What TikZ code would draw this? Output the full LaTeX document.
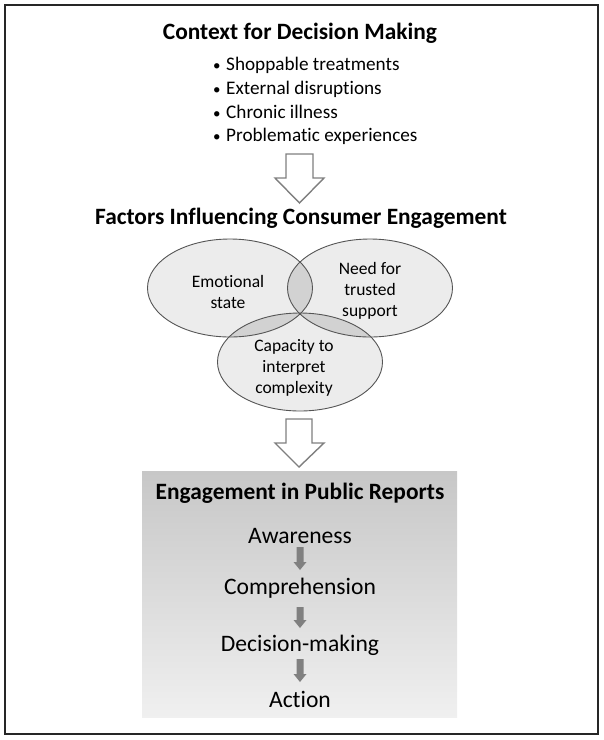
\documentclass[tikz,border=0pt]{standalone}
\usepackage{fontspec}
\setmainfont{Carlito}[Ligatures=NoCommon]
\usetikzlibrary{shapes.geometric}
\definecolor{edgegray}{HTML}{7F7F7F}
\definecolor{arrowgray}{HTML}{808080}
\definecolor{vennfill}{HTML}{ECECEC}
\definecolor{vennover}{HTML}{D2D2D2}
\definecolor{vennline}{HTML}{555555}
\begin{document}
\begin{tikzpicture}[x=1pt,y=-1pt,
  title/.style={font=\fontsize{23.4}{28}\selectfont\bfseries, inner sep=0pt},
  bullet/.style={font=\fontsize{19.2}{23}\selectfont, anchor=west, inner sep=0pt},
  venn/.style={ellipse, minimum width=165pt, minimum height=98pt, inner sep=0pt},
  venntext/.style={font=\fontsize{17.5}{21}\selectfont, align=center, inner sep=0pt},
  stage/.style={font=\fontsize{23.6}{28}\selectfont, inner sep=0pt},
  blockarrow/.style={draw=edgegray, line width=1.4pt, fill=white, line join=miter},
  smallarrow/.style={fill=arrowgray, draw=none}
]
\useasboundingbox (0,0) rectangle (604,740);
\draw[line width=1.2pt, black!85] (5,5) rectangle (598,734);

% Context
\node[title] (ctx) at (300,33) {Context for Decision Making};
\node[bullet] (b1) at (213,65) {\makebox[13pt][l]{\fontsize{15}{18}\selectfont•}Shoppable treatments};
\node[bullet] (b2) at (213,89) {\makebox[13pt][l]{\fontsize{15}{18}\selectfont•}External disruptions};
\node[bullet] (b3) at (213,112) {\makebox[13pt][l]{\fontsize{15}{18}\selectfont•}Chronic illness};
\node[bullet] (b4) at (213,136) {\makebox[13pt][l]{\fontsize{15}{18}\selectfont•}Problematic experiences};

% block arrow 1
\draw[blockarrow] (286,154) -- (313,154) -- (313,178) -- (324,178) -- (299.5,203) -- (275,178) -- (286,178) -- cycle;

% Factors
\node[title] (fac) at (301,218) {Factors Influencing Consumer Engagement};

% Venn fills
\fill[vennfill] (230,288) ellipse [x radius=82.5, y radius=49];
\fill[vennfill] (370,288) ellipse [x radius=82.5, y radius=49];
\fill[vennfill] (300,362) ellipse [x radius=82.5, y radius=49];
\begin{scope}
  \clip (230,288) ellipse [x radius=82.5, y radius=49];
  \fill[vennover] (370,288) ellipse [x radius=82.5, y radius=49];
  \fill[vennover] (300,362) ellipse [x radius=82.5, y radius=49];
\end{scope}
\begin{scope}
  \clip (370,288) ellipse [x radius=82.5, y radius=49];
  \fill[vennover] (300,362) ellipse [x radius=82.5, y radius=49];
\end{scope}
\node[venn, draw=vennline, line width=0.9pt] (emo) at (230,288) {};
\node[venn, draw=vennline, line width=0.9pt] (need) at (370,288) {};
\node[venn, draw=vennline, line width=0.9pt] (cap) at (300,362) {};
\node[venntext] (emot) at (228,292) {Emotional\\state};
\node[venntext] (needt) at (370,290.5) {Need for\\trusted\\support};
\node[venntext] (capt) at (294,367.5) {Capacity to\\interpret\\complexity};

% block arrow 2
\draw[blockarrow] (286,419) -- (312,419) -- (312,443) -- (324,443) -- (299,467) -- (275,443) -- (286,443) -- cycle;

% Engagement box
\shade[top color=black!22, bottom color=black!6] (142,471) rectangle (457,717);
\node[title] (eng) at (300,493) {Engagement in Public Reports};
\node[stage] (aw) at (300,536) {Awareness};
\node[stage] (co) at (300,588) {Comprehension};
\node[stage] (de) at (300,645) {Decision-making};
\node[stage] (ac) at (300,699) {Action};

\foreach \t/\h in {547/570, 607/628, 659/682}{
  \fill[smallarrow] (296.5,\t) -- (303.5,\t) -- (303.5,\h-8) -- (306.5,\h-8) -- (300,\h) -- (293.5,\h-8) -- (296.5,\h-8) -- cycle;
}
\end{tikzpicture}
\end{document}
